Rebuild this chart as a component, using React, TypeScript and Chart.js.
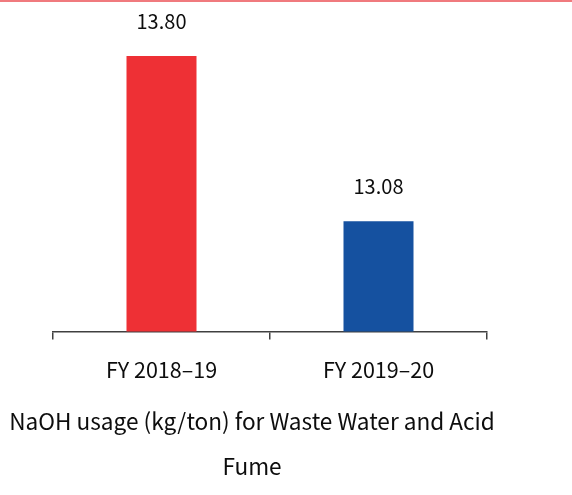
import React, { useEffect, useRef } from "react";
import { Chart, registerables } from "chart.js";

Chart.register(...registerables);

const categories = ["FY 2018–19", "FY 2019–20"];
const values = [13.8, 13.08];
const valueLabels = ["13.80", "13.08"];
const barColors = ["#EE3035", "#1551A0"];
const titleLines = ["NaOH usage (kg/ton) for Waste Water and Acid", "Fume"];
const yMin = 12.6;
const yMax = 14.0;

const FONT = "'Noto Sans CJK SC', 'Noto Sans', sans-serif";

const valueLabelPlugin = {
  id: "valueLabels",
  afterDatasetsDraw(chart: any) {
    const ctx = chart.ctx;
    const meta = chart.getDatasetMeta(0);
    ctx.save();
    ctx.font = `20px ${FONT}`;
    ctx.fillStyle = "#0d0d0d";
    ctx.textAlign = "center";
    ctx.textBaseline = "middle";
    meta.data.forEach((el: any, i: number) => {
      ctx.fillText(valueLabels[i], el.x, el.y - 35);
    });
    ctx.restore();
  },
};

export default function App() {
  const ref = useRef<HTMLCanvasElement | null>(null);

  useEffect(() => {
    if (!ref.current) return;
    const chart = new Chart(ref.current, {
      type: "bar",
      data: {
        labels: categories,
        datasets: [
          {
            data: values,
            backgroundColor: barColors,
            borderWidth: 0,
            categoryPercentage: 1,
            barPercentage: 0.3226,
          },
        ],
      },
      options: {
        responsive: true,
        maintainAspectRatio: false,
        animation: false,
        layout: { padding: { top: 8, right: 68, bottom: 5.5, left: 0 } },
        plugins: {
          legend: { display: false },
          tooltip: { enabled: false },
          title: {
            display: true,
            position: "bottom",
            text: titleLines,
            color: "#0d0d0d",
            font: { family: FONT, size: 22.6, weight: "normal", lineHeight: 2.0 },
            padding: { top: 0, bottom: 0 },
          },
        },
        scales: {
          x: {
            grid: {
              display: true,
              drawOnChartArea: false,
              drawTicks: true,
              tickLength: 8,
              color: "#404040",
              lineWidth: 1.5,
              offset: true,
            },
            border: { display: true, color: "#404040", width: 1.5 },
            ticks: { color: "#0d0d0d", font: { family: FONT, size: 21.5 }, padding: 17 },
            afterFit(scale: any) {
              scale.height = 67.5;
            },
          },
          y: {
            min: yMin,
            max: yMax,
            grid: { display: false },
            border: { display: false },
            ticks: { display: false },
            afterFit(scale: any) {
              scale.width = 53;
            },
          },
          y2: {
            position: "right",
            display: true,
            grid: { display: false },
            border: { display: false },
            ticks: { display: false },
            afterFit(scale: any) {
              scale.width = 17;
            },
          },
        },
      },
      plugins: [valueLabelPlugin],
    } as any);
    return () => chart.destroy();
  }, []);

  return (
    <div
      style={{
        position: "absolute",
        left: 0,
        top: 0,
        width: 572,
        height: 495,
        background: "#ffffff",
      }}
    >
      <div style={{ height: 0, borderTop: "2px solid #F07A7E" }} />
      <div style={{ position: "relative", width: 572, height: 493 }}>
        <canvas ref={ref} />
      </div>
    </div>
  );
}
